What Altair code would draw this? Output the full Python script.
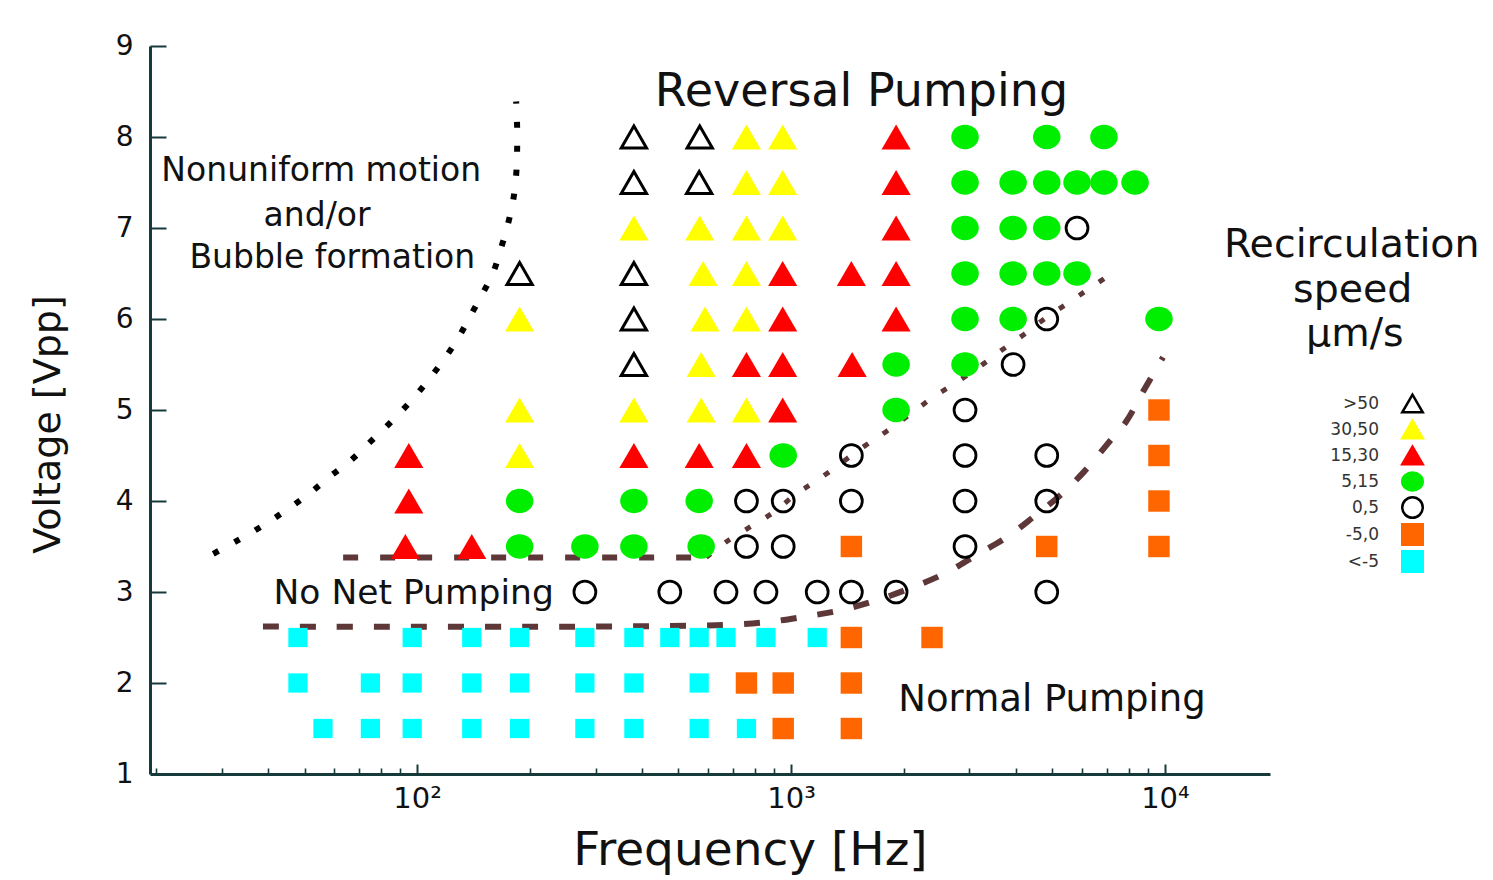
import altair as alt
import pandas as pd

# ---------------------------------------------------------------------------
# Measured operating points: frequency [Hz], voltage [Vpp], recirculation speed
# ---------------------------------------------------------------------------
CATS = [">50", "30,50", "15,30", "5,15", "0,5", "-5,0", "<-5"]

OPEN_TRI_F = [380, 570, 380, 568, 188, 380, 380, 380]
OPEN_TRI_V = [8, 8, 7.5, 7.5, 6.5, 6.5, 6, 5.5]

YELLOW_F = [760, 950, 760, 950, 380, 570, 760, 950, 582, 760, 188, 589, 760,
            575, 188, 380, 575, 760, 188]
YELLOW_V = [8, 8, 7.5, 7.5, 7, 7, 7, 7, 6.5, 6.5, 6, 6, 6,
            5.5, 5, 5, 5, 5, 4.5]

RED_F = [1910, 1910, 1910, 950, 1450, 1910, 950, 1910, 760, 950, 1457, 950,
         95, 380, 568, 760, 95, 93, 140]
RED_V = [8, 7.5, 7, 6.5, 6.5, 6.5, 6, 6, 5.5, 5.5, 5.5, 5,
         4.5, 4.5, 4.5, 4.5, 4, 3.5, 3.5]

GREEN_F = [2920, 4830, 6870,
           2920, 3926, 4830, 5820, 6870, 8320,
           2920, 3926, 4830,
           2920, 3926, 4830, 5820,
           2920, 3926, 9640,
           1910, 2920,
           1910,
           953,
           188, 380, 568,
           188, 281, 380, 575]
GREEN_V = [8, 8, 8,
           7.5, 7.5, 7.5, 7.5, 7.5, 7.5,
           7, 7, 7,
           6.5, 6.5, 6.5, 6.5,
           6, 6, 6,
           5.5, 5.5,
           5,
           4.5,
           4, 4, 4,
           3.5, 3.5, 3.5, 3.5]

OPEN_CIRC_F = [5820, 4830, 3926, 2920,
               1450, 2920, 4830,
               760, 953, 1450, 2920, 4830,
               760, 953, 2920,
               281, 474, 670, 857, 1175, 1450, 1910, 4830]
OPEN_CIRC_V = [7, 6, 5.5, 5,
               4.5, 4.5, 4.5,
               4, 4, 4, 4, 4,
               3.5, 3.5, 3.5,
               3, 3, 3, 3, 3, 3, 3, 3]

ORANGE_F = [9640, 9640, 9640, 1450, 4830, 9640, 1450, 2383, 760, 953, 1450, 953, 1450]
ORANGE_V = [5, 4.5, 4, 3.5, 3.5, 3.5, 2.5, 2.5, 2, 2, 2, 1.5, 1.5]

CYAN_F = [48, 97, 140, 188, 281, 380, 474, 568, 670, 857, 1175,
          48, 75, 97, 140, 188, 281, 380, 568,
          56, 75, 97, 140, 188, 281, 380, 568, 760]
CYAN_V = [2.5, 2.5, 2.5, 2.5, 2.5, 2.5, 2.5, 2.5, 2.5, 2.5, 2.5,
          2, 2, 2, 2, 2, 2, 2, 2,
          1.5, 1.5, 1.5, 1.5, 1.5, 1.5, 1.5, 1.5, 1.5]

# Regime boundaries
NONUNIFORM_F = [28.5, 33.2, 38.7, 44.7, 51.4, 58.5, 66.6, 75.4, 85.2, 95.8, 106.3,
                116.7, 127.9, 138.6, 149.2, 159.7, 167.7, 175.1, 180.6, 184.0,
                185.1, 185.1, 184.0]
NONUNIFORM_V = [3.42, 3.57, 3.73, 3.90, 4.08, 4.27, 4.45, 4.66, 4.87, 5.09, 5.31,
                5.53, 5.77, 6.03, 6.27, 6.51, 6.78, 7.05, 7.30, 7.58,
                7.85, 8.12, 8.39]

NO_NET_TOP_F = [63.4, 593]
NO_NET_TOP_V = [3.38, 3.38]

REVERSAL_EDGE_F = [593, 670, 781, 901, 1026, 1197, 1568, 1806, 2108, 2398, 2762,
                   3201, 3640, 4198, 4830, 5571, 6416, 7390]
REVERSAL_EDGE_V = [3.38, 3.55, 3.72, 3.88, 4.07, 4.25, 4.60, 4.77, 4.97, 5.14, 5.30,
                   5.48, 5.65, 5.83, 6.02, 6.19, 6.36, 6.53]

NORMAL_EDGE_F = [38.7, 308, 531, 687, 867, 1089, 1361, 1699, 2108, 2596, 3141,
                 3802, 4465, 5272, 6072, 6998, 7870, 8735, 9885]
NORMAL_EDGE_V = [2.62, 2.62, 2.63, 2.64, 2.67, 2.73, 2.80, 2.91, 3.05, 3.21, 3.41,
                 3.61, 3.83, 4.07, 4.32, 4.62, 4.87, 5.20, 5.58]

X_LABEL_TICKS = [100, 1000, 10000]
X_MINOR_TICKS = [20, 30, 40, 50, 60, 70, 80, 90,
                 200, 300, 400, 500, 600, 700, 800, 900,
                 2000, 3000, 4000, 5000, 6000, 7000, 8000, 9000]
Y_TICKS = [1, 2, 3, 4, 5, 6, 7, 8, 9]
Y_INNER_TICKS = [2, 3, 4, 5, 6, 7, 8, 9]

# ---------------------------------------------------------------------------
FONT = "DejaVu Sans"
AXIS_COLOR = "#16393a"
TEXT_COLOR = "#111111"
BROWN = "#5e3838"

ELLIPSE = "M-1,0A1,0.88,0,1,1,1,0A1,0.88,0,1,1,-1,0Z"
SHAPES = ["triangle-up", "triangle-up", "triangle-up", ELLIPSE, "circle", "square", "square"]
FILLS = ["transparent", "#ffff00", "#ff0000", "#00ee00", "transparent", "#ff6600", "#00ffff"]
STROKES = ["#000000", "#ffff00", "#ff0000", "#00ee00", "#000000", "#ff6600", "#00ffff"]
SIZES = [640, 850, 850, 760, 480, 460, 370]
WIDTHS = [3, 0, 0, 0, 2.8, 0, 0]

# Marker size / outline scales list the classes in reverse so that their
# (hidden) legends stay separate from the symbol legend.
CATS_REV = CATS[::-1]
SIZES_REV = SIZES[::-1]
WIDTHS_REV = WIDTHS[::-1]


def series(fs, vs, cat):
    return pd.DataFrame({"f": fs, "v": vs, "cat": cat})


points = pd.concat([
    series(OPEN_TRI_F, OPEN_TRI_V, ">50"),
    series(YELLOW_F, YELLOW_V, "30,50"),
    series(RED_F, RED_V, "15,30"),
    series(GREEN_F, GREEN_V, "5,15"),
    series(OPEN_CIRC_F, OPEN_CIRC_V, "0,5"),
    series(ORANGE_F, ORANGE_V, "-5,0"),
    series(CYAN_F, CYAN_V, "<-5"),
], ignore_index=True)

xs = alt.Scale(type="log", domain=[19.3, 19100])
ys = alt.Scale(domain=[1, 9])

x_main = alt.Axis(
    values=X_LABEL_TICKS, orient="bottom", grid=False, ticks=False, tickSize=0,
    labelExpr="datum.value == 100 ? '10²' : datum.value == 1000 ? '10³' : '10⁴'",
    labelFont=FONT, labelFontSize=29, labelColor=TEXT_COLOR, labelPadding=10,
    labelOverlap=False, labelFlush=False,
    domainColor=AXIS_COLOR, domainWidth=3,
    title="Frequency [Hz]", titleFont=FONT, titleFontSize=47, titleFontWeight="normal",
    titleColor=TEXT_COLOR, titleX=600, titleY=76, titleBaseline="middle",
)
y_main = alt.Axis(
    values=Y_TICKS, orient="left", grid=False, ticks=False, tickSize=0,
    labelFont=FONT, labelFontSize=28, labelColor=TEXT_COLOR, labelPadding=17,
    labelOverlap=False,
    domainColor=AXIS_COLOR, domainWidth=3,
    title="Voltage [Vpp]", titleFont=FONT, titleFontSize=38, titleFontWeight="normal",
    titleColor=TEXT_COLOR, titleX=-102, titleY=378, titleAngle=270,
    titleBaseline="middle", titleAlign="center",
)

legend = alt.Legend(
    orient="none", legendX=1251, legendY=346, title=None, padding=0,
    labelAlign="right", labelOffset=alt.ExprRef("-45"), labelFont=FONT, labelFontSize=17,
    labelColor="#333333", symbolSize=420, symbolStrokeWidth=2.5,
    rowPadding=alt.ExprRef("-8.6"),
)


def boundary(fs, vs, color, width, dash):
    df = pd.DataFrame({"f": fs, "v": vs, "i": list(range(len(fs)))})
    return alt.Chart(df).mark_line(
        color=color, strokeWidth=width, strokeDash=dash, strokeCap="butt",
        interpolate="catmull-rom",
    ).encode(
        x=alt.X("f:Q", scale=xs, axis=None),
        y=alt.Y("v:Q", scale=ys, axis=None),
        order=alt.Order("i:Q"),
    )


def label(texts, fs, vs, size):
    df = pd.DataFrame({"text": texts, "f": fs, "v": vs})
    return alt.Chart(df).mark_text(
        font=FONT, fontSize=size, color=TEXT_COLOR, align="center", baseline="middle",
    ).encode(
        x=alt.X("f:Q", scale=xs, axis=None),
        y=alt.Y("v:Q", scale=ys, axis=None),
        text="text:N",
    )


lines = [
    boundary(NONUNIFORM_F, NONUNIFORM_V, "#000000", 6, [6, 18]),
    boundary(NO_NET_TOP_F, NO_NET_TOP_V, BROWN, 6, [15, 22]),
    boundary(REVERSAL_EDGE_F, REVERSAL_EDGE_V, BROWN, 5, [6, 18]),
    boundary(NORMAL_EDGE_F, NORMAL_EDGE_V, BROWN, 6, [16, 21]),
]

marks = alt.Chart(points).mark_point(filled=True, opacity=1).encode(
    x=alt.X("f:Q", scale=xs, axis=x_main),
    y=alt.Y("v:Q", scale=ys, axis=y_main),
    shape=alt.Shape("cat:N", scale=alt.Scale(domain=CATS, range=SHAPES), legend=legend),
    fill=alt.Fill("cat:N", scale=alt.Scale(domain=CATS, range=FILLS), legend=legend),
    stroke=alt.Stroke("cat:N", scale=alt.Scale(domain=CATS, range=STROKES), legend=legend),
    size=alt.Size("cat:N", scale=alt.Scale(type="ordinal", domain=CATS_REV, range=SIZES_REV),
                  legend=None),
    strokeWidth=alt.StrokeWidth("cat:N", scale=alt.Scale(type="ordinal", domain=CATS_REV,
                                                         range=WIDTHS_REV), legend=None),
)

texts = [
    label(["Reversal Pumping"], [1543], [8.49], 46),
    label(["Nonuniform motion", "and/or", "Bubble formation"],
          [55.4, 54.0, 59.3], [7.63, 7.13, 6.67], 33),
    label(["No Net Pumping"], [97.9], [2.98], 34.5),
    label(["Normal Pumping"], [4990], [1.81], 37),
    label(["Recirculation", "speed", "μm/s"], [31600, 31800, 32200], [6.81, 6.32, 5.83], 39.5),
]

# Inward-pointing tick marks: extra axes shifted into the plot area
guide = alt.Chart(points).mark_point(opacity=0)
x_major_ticks = guide.encode(
    x=alt.X("f:Q", scale=xs, axis=alt.Axis(
        values=X_LABEL_TICKS, orient="bottom", offset=-10, tickSize=10, tickWidth=2,
        tickColor=AXIS_COLOR, labels=False, domain=False, grid=False, title=None)),
)
x_minor_ticks = guide.encode(
    x=alt.X("f:Q", scale=xs, axis=alt.Axis(
        values=X_MINOR_TICKS, orient="bottom", offset=-6, tickSize=6, tickWidth=1.6,
        tickColor=AXIS_COLOR, labels=False, domain=False, grid=False, title=None)),
)
y_ticks = guide.encode(
    y=alt.Y("v:Q", scale=ys, axis=alt.Axis(
        values=Y_INNER_TICKS, orient="left", offset=-16, tickSize=16, tickWidth=2,
        tickColor=AXIS_COLOR, labels=False, domain=False, grid=False, title=None)),
)

chart = alt.layer(
    *lines, marks, *texts, x_major_ticks, x_minor_ticks, y_ticks,
).resolve_axis(
    x="independent", y="independent",
).properties(
    width=1120, height=728,
    autosize=alt.AutoSizeParams(type="none"),
    padding={"left": 150, "top": 46, "right": 223, "bottom": 106},
    background="white",
).configure_view(stroke=None)

chart.save("out.html", embed_options={"renderer": "svg", "actions": False})
